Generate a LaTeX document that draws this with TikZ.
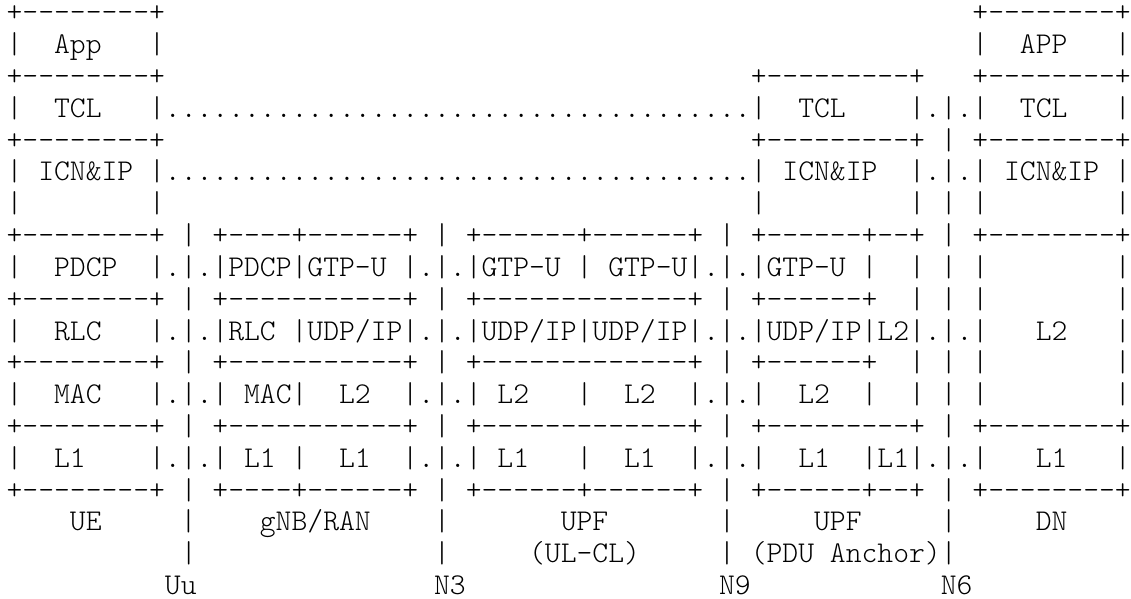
\documentclass[tikz,border=0pt]{standalone}
\usepackage{fontspec}
\setmonofont{lmmonolt10-regular.otf}
\usepackage{tikz}

% blank columns and runs of dots, one monospace cell each
\newcommand{\skipcols}[1]{\kern#1\fontcharwd\font`\+\relax}
\newcommand{\dotcols}[1]{\foreach \k in {1,...,#1}{.}}

\begin{document}
\begin{tikzpicture}[
        x=0.5pt, y=-0.5pt,
        asciirow/.style={anchor=base west, inner sep=0pt, outer sep=0pt, font=\ttfamily\fontsize{15.08pt}{16pt}\selectfont}
      ]
        \useasboundingbox (0,0) rectangle (1131,599);

        % upper layers: App, TCL, ICN&IP
        \node (r1) [asciirow] at (6.6,22) {+--------+\skipcols{51}+--------+};
        \node (r2) [asciirow] at (6.6,53.8) {|~~App~~~|\skipcols{51}|~~APP~~~|};
        \node (r3) [asciirow] at (6.6,85.6) {+--------+\skipcols{37}+---------+\skipcols{3}+--------+};
        \node (r4) [asciirow] at (6.6,117.4) {|~~TCL~~~|\dotcols{37}|~~TCL~~~~|.|.|~~TCL~~~|};
        \node (r5) [asciirow] at (6.6,149.2) {+--------+\skipcols{37}+---------+~|~+--------+};
        \node (r6) [asciirow] at (6.6,181) {|~ICN\&IP~|\dotcols{37}|~ICN\&IP~~|.|.|~ICN\&IP~|};
        \node (r7) [asciirow] at (6.6,212.8) {|\skipcols{8}|\skipcols{37}|\skipcols{9}|~|~|\skipcols{8}|};

        % lower layers: PDCP / RLC / MAC / L1 and tunnels
        \node (r8) [asciirow] at (6.6,244.6) {+--------+~|~+----+------+~|~+------+------+~|~+------+--+~|~+--------+};
        \node (r9) [asciirow] at (6.6,276.4) {|~~PDCP~~|.|.|PDCP|GTP-U~|.|.|GTP-U~|~GTP-U|.|.|GTP-U~|~~|~|~|\skipcols{8}|};
        \node (r10) [asciirow] at (6.6,308.2) {+--------+~|~+-----------+~|~+-------------+~|~+------+~~|~|~|\skipcols{8}|};
        \node (r11) [asciirow] at (6.6,340) {|~~RLC~~~|.|.|RLC~|UDP/IP|.|.|UDP/IP|UDP/IP|.|.|UDP/IP|L2|.|.|~~~L2~~~|};
        \node (r12) [asciirow] at (6.6,371.8) {+--------+~|~+-----------+~|~+-------------+~|~+------+~~|~|~|\skipcols{8}|};
        \node (r13) [asciirow] at (6.6,403.6) {|~~MAC~~~|.|.|~MAC|~~L2~~|.|.|~L2~~~|~~L2~~|.|.|~~L2~~|~~|~|~|\skipcols{8}|};
        \node (r14) [asciirow] at (6.6,435.4) {+--------+~|~+-----------+~|~+-------------+~|~+---------+~|~+--------+};
        \node (r15) [asciirow] at (6.6,467.2) {|~~L1~~~~|.|.|~L1~|~~L1~~|.|.|~L1~~~|~~L1~~|.|.|~~L1~~|L1|.|.|~~~L1~~~|};
        \node (r16) [asciirow] at (6.6,499) {+--------+~|~+----+------+~|~+------+------+~|~+------+--+~|~+--------+};

        % entity names and reference points
        \node (r17) [asciirow] at (6.6,530.8) {\skipcols{4}UE\skipcols{5}|\skipcols{4}gNB/RAN\skipcols{4}|\skipcols{7}UPF\skipcols{7}|\skipcols{5}UPF\skipcols{5}|\skipcols{5}DN};
        \node (r18) [asciirow] at (6.6,562.6) {\skipcols{11}|\skipcols{15}|\skipcols{5}(UL-CL)\skipcols{5}|~(PDU~Anchor)|};
        \node (r19) [asciirow] at (6.6,594.4) {\skipcols{10}Uu\skipcols{15}N3\skipcols{16}N9\skipcols{12}N6};
      \end{tikzpicture}
\end{document}
